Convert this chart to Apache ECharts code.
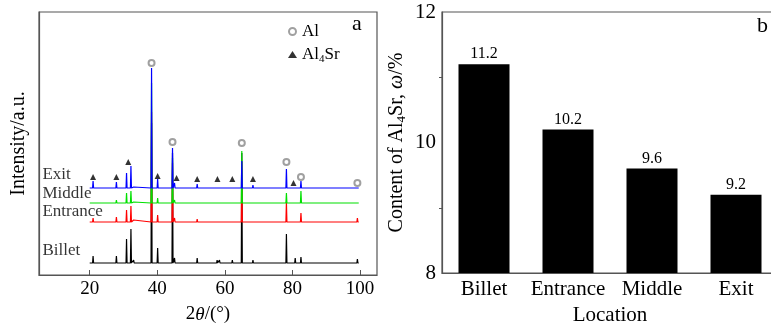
<!DOCTYPE html>
<html>
<head>
<meta charset="utf-8">
<script src="https://cdn.jsdelivr.net/npm/echarts@6.0.0/dist/echarts.min.js"></script>
<style>
  html, body { margin: 0; padding: 0; background: #fff; overflow: hidden; }
  /* panel b runs past the right edge of the original crop */
  #chart { width: 778px; height: 331px; }
</style>
</head>
<body>
<div id="chart"></div>
<script>
// peak positions (2theta, deg) shared by all four XRD patterns
const peakPos = [21.0, 27.9, 30.9, 32.2, 33.0, 38.3, 40.1, 44.5, 45.1, 51.8, 57.7, 58.4,
  62.2, 65.0, 68.3, 78.2, 80.8, 82.5, 86.3, 90.6, 93.6, 95.0, 99.2]

// peak heights above each pattern's own baseline (a.u.)
const billetH = [7, 7, 24, 34, 3, 140, 15, 110, 5, 5, 3, 3, 3, 110, 3, 29, 5, 6, 2, 2, 2, 2, 4]
const entranceH = [4, 5, 12, 16, 2, 110, 7, 59, 4, 3, 2, 2, 2, 60, 2, 20, 1, 9, 0, 0, 0, 0, 4]
const middleH = [2, 3, 10, 12, 1, 120, 5, 45, 3, 2, 1, 1, 1, 52, 1, 10, 0, 12, 0, 0, 0, 0, 1]
const exitH = [7, 6, 15, 22, 1, 120, 9, 40, 5, 4, 2, 2, 2, 27, 3, 19, 0, 7, 0, 0, 0, 0, 1]

// vertical offsets of the stacked patterns
const patternNames = ['Billet', 'Entrance', 'Middle', 'Exit']
const patternBase = [12, 53, 72, 87]

// phase markers above the Exit pattern
const alX = [38.3, 44.5, 65.0, 78.2, 82.5, 99.2]
const alY = [212, 133, 132, 113, 98, 92]
const al4SrX = [21.0, 27.9, 31.4, 40.1, 45.7, 51.8, 57.8, 62.2, 68.3, 80.3]
const al4SrY = [98, 98, 113, 99, 97, 96, 96, 96, 96, 92]

// panel b
const locations = ['Billet', 'Entrance', 'Middle', 'Exit']
const al4SrContent = [11.2, 10.2, 9.6, 9.2]

const serif = 'Liberation Serif'
const frame = '#555'

function profile (heights, base) {
  const pts = [[20, base]]
  peakPos.forEach((p, i) => {
    if (heights[i] > 0) {
      pts.push([p - 0.15, base], [p, base + heights[i]], [p + 0.15, base])
    }
  })
  pts.push([99.6, base])
  return pts
}

const allH = [billetH, entranceH, middleH, exitH]
const lineColors = ['#000000', '#ff0000', '#00e000', '#0000ff']

const xrdSeries = patternNames.map((n, k) => ({
  name: n,
  type: 'line',
  xAxisIndex: 0,
  yAxisIndex: 0,
  symbol: 'none',
  lineStyle: { color: lineColors[k], width: 1.2 },
  data: profile(allH[k], patternBase[k]),
  z: 2 + k
}))

const tagY = [24, 63, 81, 100]

const option = {
  animation: false,
  backgroundColor: '#fff',
  textStyle: { fontFamily: serif, color: '#000' },
  title: [
    { text: 'a', left: 347, top: 8, textStyle: { fontFamily: serif, fontSize: 22, fontWeight: 'normal', color: '#000' } },
    { text: 'b', left: 752, top: 10, textStyle: { fontFamily: serif, fontSize: 22, fontWeight: 'normal', color: '#000' } }
  ],
  legend: {
    data: ['Al', 'Al4Sr'],
    orient: 'vertical',
    left: 283,
    top: 18,
    itemWidth: 9,
    itemHeight: 7,
    itemGap: 6,
    formatter: n => n === 'Al4Sr' ? '{n|Al}{s|4}{n|Sr}' : '{n|Al}',
    textStyle: {
      fontFamily: serif,
      fontSize: 17,
      color: '#000',
      rich: {
        n: { fontFamily: serif, fontSize: 17, color: '#000' },
        s: { fontFamily: serif, fontSize: 11, color: '#000', padding: [9, 0, 0, 0] }
      }
    }
  },
  grid: [
    { left: 39, right: 401, top: 12, bottom: 56, show: true, borderColor: frame, borderWidth: 1.2 },
    { left: 442, right: 0, top: 12, bottom: 58, show: true, borderColor: frame, borderWidth: 1.2 }
  ],
  xAxis: [
    {
      gridIndex: 0,
      type: 'value',
      min: 5,
      max: 105,
      name: '{t|2}{i|θ}{t|/(°)}',
      nameLocation: 'middle',
      nameGap: 30,
      nameTextStyle: {
        rich: {
          t: { fontFamily: serif, fontSize: 19, color: '#000' },
          i: { fontFamily: serif, fontSize: 19, color: '#000', fontStyle: 'italic' }
        }
      },
      axisLine: { lineStyle: { color: frame, width: 1.2 } },
      axisTick: { inside: true, length: 5, customValues: [20, 40, 60, 80, 100], lineStyle: { color: frame } },
      axisLabel: { customValues: [20, 40, 60, 80, 100], fontFamily: serif, fontSize: 19, color: '#000', margin: 5 },
      splitLine: { show: false }
    },
    {
      gridIndex: 1,
      type: 'category',
      data: locations,
      name: 'Location',
      nameLocation: 'middle',
      nameGap: 30,
      nameTextStyle: { fontFamily: serif, fontSize: 21, color: '#000' },
      axisLine: { lineStyle: { color: frame, width: 1.2 } },
      axisTick: { show: false },
      axisLabel: { interval: 0, hideOverlap: false, fontFamily: serif, fontSize: 21, color: '#000', margin: 6 }
    }
  ],
  yAxis: [
    {
      gridIndex: 0,
      type: 'value',
      min: 0,
      max: 263,
      name: 'Intensity/a.u.',
      nameLocation: 'middle',
      nameGap: 10,
      nameTextStyle: { fontFamily: serif, fontSize: 20, color: '#000' },
      axisLine: { show: true, lineStyle: { color: frame, width: 1.2 } },
      axisTick: { show: false },
      axisLabel: { show: false },
      splitLine: { show: false }
    },
    {
      gridIndex: 1,
      type: 'value',
      min: 8,
      max: 12,
      interval: 2,
      name: '{t|Content of Al}{s|4}{t|Sr, }{i|ω}{t|/%}',
      nameLocation: 'middle',
      nameGap: 34,
      nameTextStyle: {
        rich: {
          t: { fontFamily: serif, fontSize: 20, color: '#000' },
          s: { fontFamily: serif, fontSize: 13, color: '#000', padding: [10, 0, 0, 0] },
          i: { fontFamily: serif, fontSize: 20, color: '#000', fontStyle: 'italic' }
        }
      },
      axisLine: { show: true, lineStyle: { color: frame, width: 1.2 } },
      axisTick: { length: 5, lineStyle: { color: frame } },
      minorTick: { show: true, splitNumber: 2, length: 3, lineStyle: { color: frame } },
      axisLabel: { fontFamily: serif, fontSize: 21, color: '#000', margin: 6 },
      splitLine: { show: false }
    }
  ],
  series: [
    ...xrdSeries,
    {
      name: 'Al',
      type: 'scatter',
      xAxisIndex: 0,
      yAxisIndex: 0,
      symbol: 'emptyCircle',
      symbolSize: 6,
      itemStyle: { color: '#888', borderWidth: 0.8 },
      data: alX.map((x, i) => [x, alY[i]]),
      z: 10
    },
    {
      name: 'Al4Sr',
      type: 'scatter',
      xAxisIndex: 0,
      yAxisIndex: 0,
      symbol: 'triangle',
      symbolSize: 6,
      itemStyle: { color: '#000' },
      data: al4SrX.map((x, i) => [x, al4SrY[i]]),
      z: 10
    },
    {
      name: 'tags',
      type: 'scatter',
      xAxisIndex: 0,
      yAxisIndex: 0,
      symbolSize: 0,
      silent: true,
      label: {
        show: true,
        position: 'right',
        distance: 0,
        formatter: p => p.value[2],
        fontFamily: serif,
        fontSize: 17,
        color: '#000'
      },
      data: patternNames.map((n, k) => [6.0, tagY[k], n])
    },
    {
      name: 'content',
      type: 'bar',
      xAxisIndex: 1,
      yAxisIndex: 1,
      barWidth: 51,
      itemStyle: { color: '#000' },
      label: { show: true, position: 'top', distance: 2, fontFamily: serif, fontSize: 16, color: '#000' },
      data: al4SrContent
    }
  ]
}

const myChart = echarts.init(document.getElementById('chart'))
myChart.setOption(option)
</script>
</body>
</html>
